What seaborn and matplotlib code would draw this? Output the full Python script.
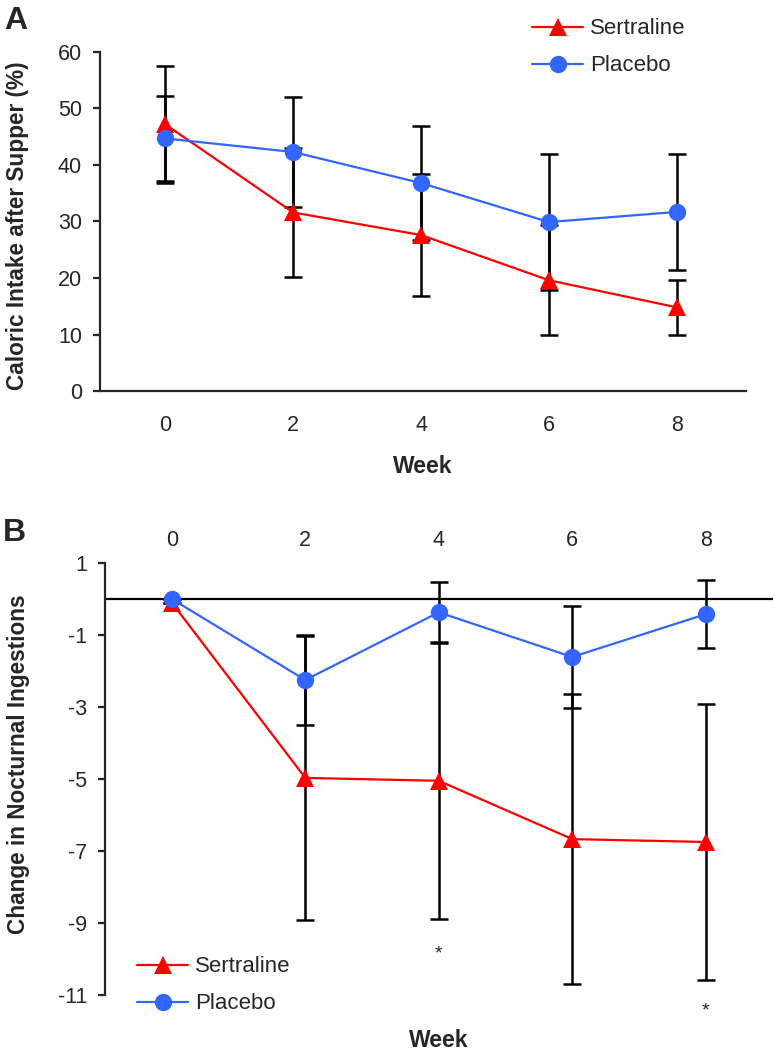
import matplotlib
matplotlib.use('Agg')
import matplotlib.pyplot as plt
import seaborn as sns

# Data
weeks = [0, 2, 4, 6, 8]
groups = ['Sertraline', 'Placebo']

# Panel A: caloric intake after supper (%), mean and SD
a_sertraline = [47.2, 31.6, 27.6, 19.6, 14.8]
a_sertraline_sd = [10.3, 11.4, 10.8, 9.7, 4.8]
a_placebo = [44.7, 42.3, 36.8, 29.9, 31.7]
a_placebo_sd = [7.5, 9.7, 10.1, 12.0, 10.3]

# Panel B: change in nocturnal ingestions, mean and SD
b_sertraline = [-0.1, -4.97, -5.05, -6.67, -6.75]
b_sertraline_sd = [0, 3.95, 3.85, 4.02, 3.83]
b_placebo = [0, -2.25, -0.37, -1.61, -0.42]
b_placebo_sd = [0, 1.24, 0.84, 1.42, 0.95]

# significance markers in panel B (week, y)
star_weeks = [4, 8]
star_y = [-9.85, -11.45]

a_yticks = [0, 10, 20, 30, 40, 50, 60]
b_yticks = [1, -1, -3, -5, -7, -9, -11]

colors = {'Sertraline': '#FF0000', 'Placebo': '#3366FF'}
markers = {'Sertraline': '^', 'Placebo': 'o'}
msize = {'Sertraline': 13, 'Placebo': 12.5}

sns.set_style('ticks')
plt.rcParams['font.family'] = ['Liberation Sans', 'DejaVu Sans']

fig = plt.figure(figsize=(7.74, 10.5), dpi=100)
ax_a = fig.add_axes([0.1292, 0.6276, 0.8346, 0.3229])
ax_b = fig.add_axes([0.1357, 0.0524, 0.8624, 0.4114])


def draw_panel(ax, series):
    # error bars first so the markers sit on top
    for name, (vals, sd) in series.items():
        ax.errorbar(weeks, vals, yerr=sd, fmt='none', ecolor='black',
                    elinewidth=1.8, capsize=6.5, capthick=1.8, zorder=2)
    for name, (vals, sd) in series.items():
        sns.lineplot(x=weeks, y=vals, ax=ax, color=colors[name],
                     marker=markers[name], markersize=msize[name],
                     markeredgewidth=0, linewidth=1.6, label=name, zorder=3)


# Panel A
draw_panel(ax_a, {'Sertraline': (a_sertraline, a_sertraline_sd),
                  'Placebo': (a_placebo, a_placebo_sd)})
ax_a.set_xlim(-1.02, 9.08)
ax_a.set_ylim(0, 60)
ax_a.set_xticks(weeks)
ax_a.set_yticks(a_yticks)
sns.despine(ax=ax_a)
for s in ['left', 'bottom']:
    ax_a.spines[s].set_linewidth(1.6)
ax_a.tick_params(axis='y', length=5, width=1.6, pad=8, labelsize=15.5)
ax_a.tick_params(axis='x', length=0, pad=17, labelsize=15.5)
ax_a.set_xlabel('Week', fontsize=16.5, fontweight='bold')
ax_a.xaxis.set_label_coords(0.5, -0.19)
ax_a.set_ylabel('Caloric Intake after Supper (%)', fontsize=16.3, fontweight='bold')
ax_a.yaxis.set_label_coords(-0.110, 0.487)
ax_a.legend(loc='upper left', bbox_to_anchor=(0.655, 1.125), frameon=False,
            fontsize=16, handlelength=2.3, handletextpad=0.3, labelspacing=0.72,
            borderaxespad=0)

# Panel B
draw_panel(ax_b, {'Sertraline': (b_sertraline, b_sertraline_sd),
                  'Placebo': (b_placebo, b_placebo_sd)})
ax_b.axhline(0, color='black', linewidth=1.6, zorder=1)
ax_b.set_xlim(-1.0, 9.0)
ax_b.set_ylim(-11, 1)
ax_b.set_xticks(weeks)
ax_b.set_yticks(b_yticks)
ax_b.set_yticklabels([str(t) for t in b_yticks])
sns.despine(ax=ax_b, bottom=True)
ax_b.spines['left'].set_linewidth(1.6)
ax_b.xaxis.tick_top()
ax_b.tick_params(axis='y', length=5, width=1.6, pad=8, labelsize=15.5)
ax_b.tick_params(axis='x', length=0, pad=9, labelsize=15.5)
ax_b.set_xlabel('Week', fontsize=16.5, fontweight='bold')
ax_b.xaxis.set_label_position('bottom')
ax_b.xaxis.set_label_coords(0.5, -0.078)
ax_b.set_ylabel('Change in Nocturnal Ingestions', fontsize=16.3, fontweight='bold')
ax_b.yaxis.set_label_coords(-0.1125, 0.535)
for wx, wy in zip(star_weeks, star_y):
    ax_b.text(wx, wy, '*', ha='center', va='center', fontsize=14, clip_on=False)
ax_b.legend(loc='upper left', bbox_to_anchor=(0.035, 0.11), frameon=False,
            fontsize=16, handlelength=2.3, handletextpad=0.3, labelspacing=0.72,
            borderaxespad=0)

fig.text(0.006, 0.994, 'A', fontsize=23, fontweight='bold', va='top', ha='left')
fig.text(0.004, 0.507, 'B', fontsize=23, fontweight='bold', va='top', ha='left')

fig.savefig('out.png', dpi=100)
plt.close(fig)
